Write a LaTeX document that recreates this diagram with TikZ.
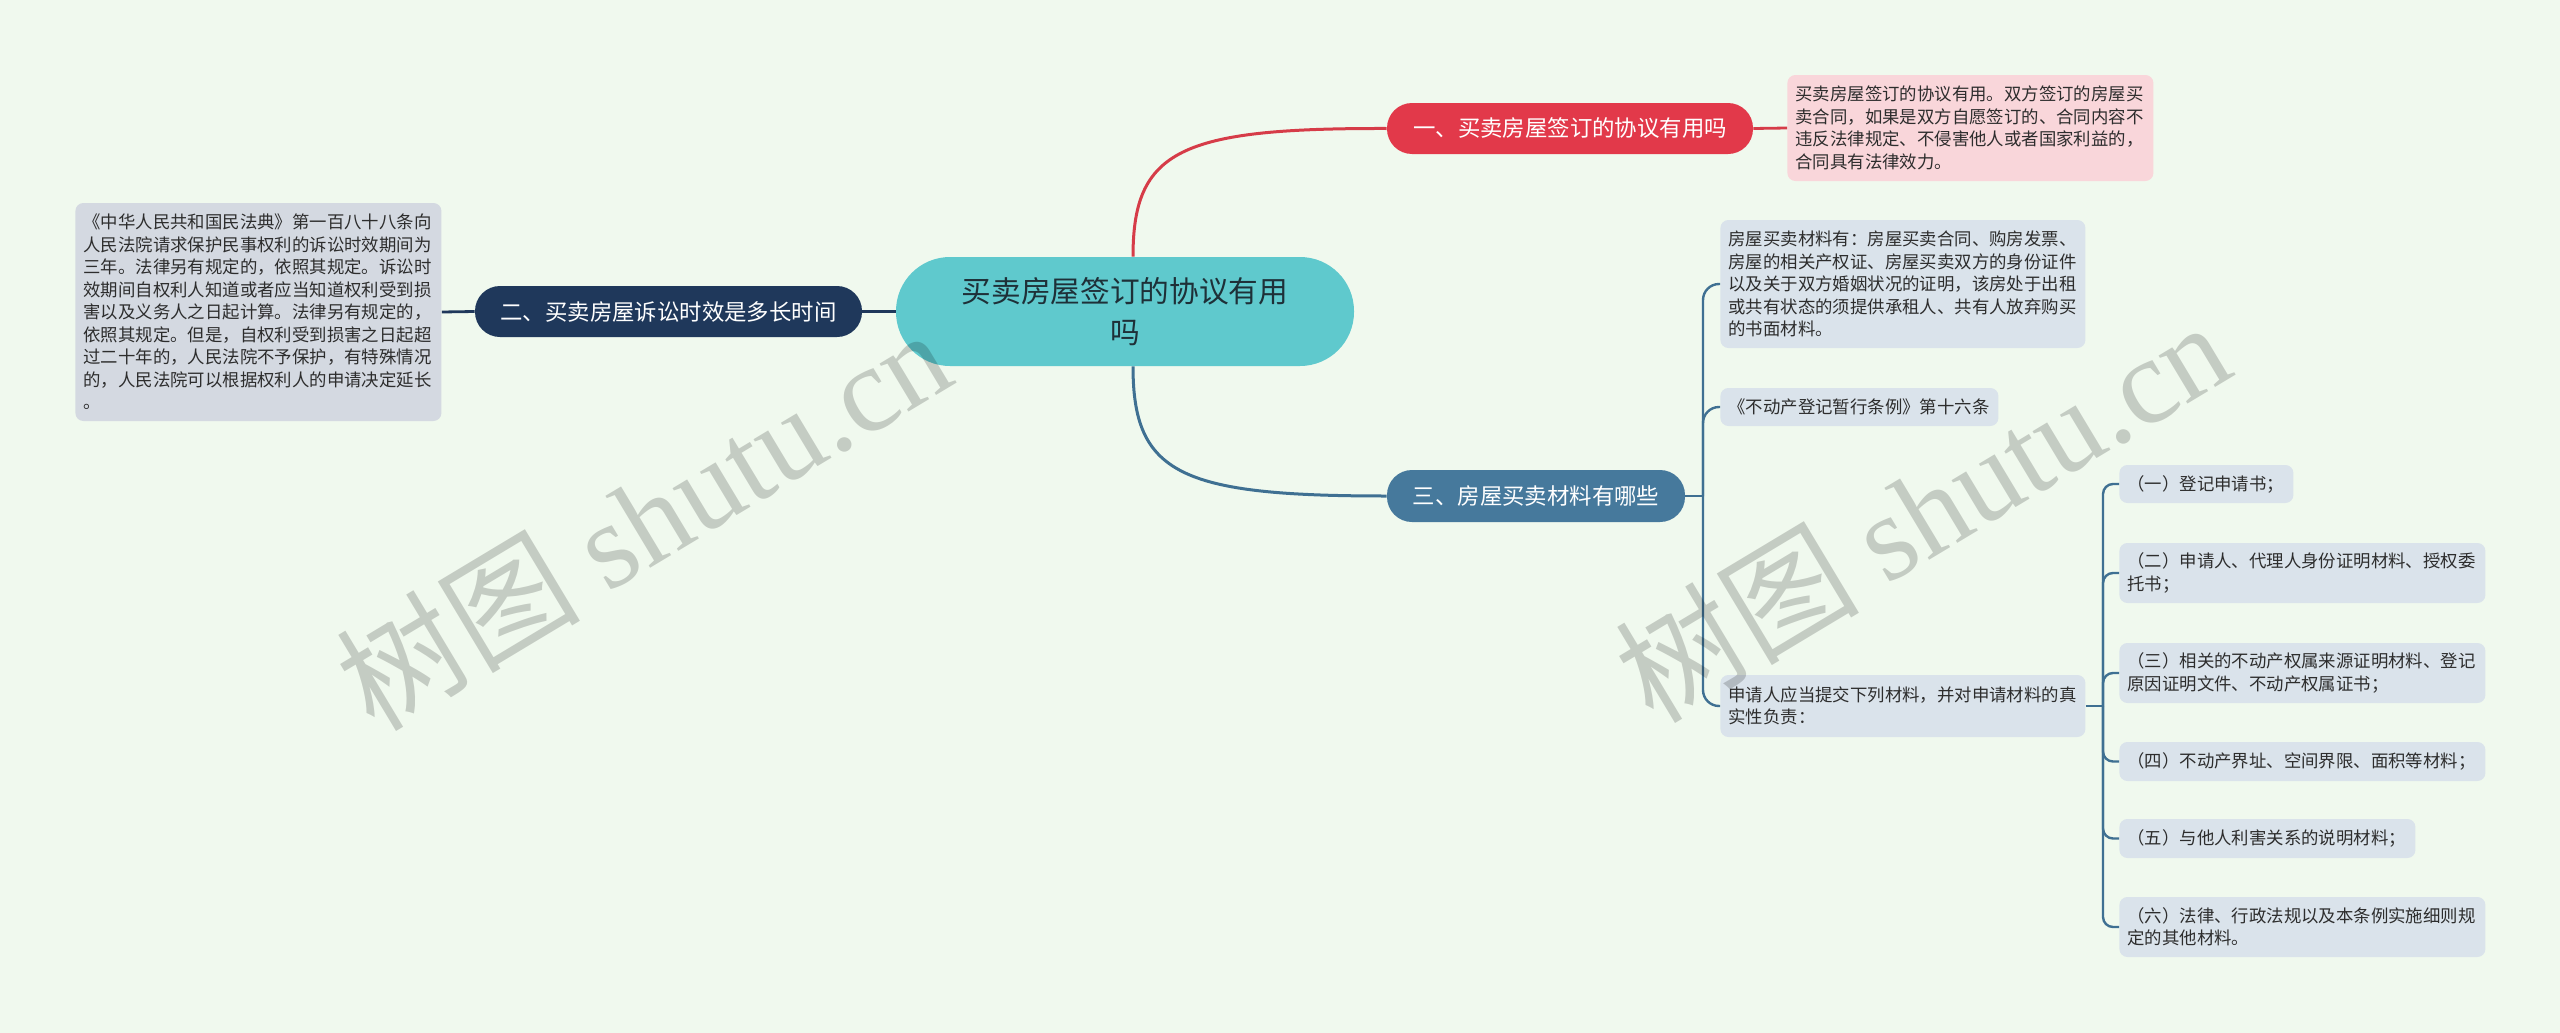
\documentclass[tikz,border=0pt]{standalone}
\usepackage{fontspec}
\setmainfont{Noto Sans CJK SC}
\newfontfamily\wmserif{Liberation Serif}
\usetikzlibrary{calc}
\definecolor{bg}{RGB}{240,249,238}
\definecolor{centerc}{RGB}{95,201,205}
\definecolor{centertext}{RGB}{30,48,56}
\definecolor{redc}{RGB}{226,57,74}
\definecolor{navyc}{RGB}{31,56,91}
\definecolor{bluec}{RGB}{70,121,156}
\definecolor{redleaf}{RGB}{249,214,218}
\definecolor{greyleaf}{RGB}{212,217,225}
\definecolor{blueleaf}{RGB}{218,227,235}
\definecolor{redline}{RGB}{214,60,72}
\definecolor{navyline}{RGB}{31,56,91}
\definecolor{blueline}{RGB}{63,112,146}
\definecolor{leaftext}{RGB}{45,45,45}
\begin{document}
\begin{tikzpicture}[x=0.5pt,y=-0.5pt,
  leaf/.style={rounded corners=4pt, inner xsep=4pt, inner ysep=0pt, align=left,
    text=leaftext, font=\fontsize{8.7pt}{11.25pt}\selectfont, anchor=west},
  branch/.style={rounded corners=12.5pt, inner sep=0pt, text=white,
    font=\fontsize{11.2pt}{14pt}\selectfont},
  redl/.style={draw=redline, line width=1.4pt},
  navyl/.style={draw=navyline, line width=1.4pt},
  bluel/.style={draw=blueline, line width=1.4pt},
  thinblue/.style={draw=blueline, line width=1.2pt},
  wm/.style={text=black, text opacity=0.18, rotate=31, inner sep=0pt,
    font=\fontsize{61pt}{66pt}\selectfont}
]
\useasboundingbox (0,0) rectangle (2560,1033);
\fill[bg] (0,0) rectangle (2560,1033);

% centre
\node[fill=centerc, rounded corners=27pt, minimum width=229pt, minimum height=54.5pt,
  inner sep=0pt, align=center, text=centertext,
  font=\fontsize{14.85pt}{20.5pt}\selectfont] (c) at (1125,311.5)
  {买卖房屋签订的协议有用\\吗};

% branches
\node[branch, fill=redc, minimum width=183pt, minimum height=25.5pt] (b1) at (1570,128.5)
  {一、买卖房屋签订的协议有用吗};
\node[branch, fill=navyc, minimum width=193.5pt, minimum height=25.5pt] (b2) at (668.5,311.5)
  {二、买卖房屋诉讼时效是多长时间};
\node[branch, fill=bluec, minimum width=149pt, minimum height=26pt] (b3) at (1536,496)
  {三、房屋买卖材料有哪些};

% leaves
\node[leaf, fill=greyleaf, text width=175pt, minimum height=109pt] (L2) at (75,312)
  {《中华人民共和国民法典》第一百八十八条向\\人民法院请求保护民事权利的诉讼时效期间为\\三年。法律另有规定的，依照其规定。诉讼时\\效期间自权利人知道或者应当知道权利受到损\\害以及义务人之日起计算。法律另有规定的，\\依照其规定。但是，自权利受到损害之日起超\\过二十年的，人民法院不予保护，有特殊情况\\的，人民法院可以根据权利人的申请决定延长\\。};
\node[leaf, fill=redleaf, text width=175pt, minimum height=53pt] (L1) at (1787,128)
  {买卖房屋签订的协议有用。双方签订的房屋买\\卖合同，如果是双方自愿签订的、合同内容不\\违反法律规定、不侵害他人或者国家利益的，\\合同具有法律效力。};
\node[leaf, fill=blueleaf, text width=174.5pt, minimum height=64pt] (L3a) at (1720,284)
  {房屋买卖材料有：房屋买卖合同、购房发票、\\房屋的相关产权证、房屋买卖双方的身份证件\\以及关于双方婚姻状况的证明，该房处于出租\\或共有状态的须提供承租人、共有人放弃购买\\的书面材料。};
\node[leaf, fill=blueleaf, text width=131pt, minimum height=19pt] (L3b) at (1720,407)
  {《不动产登记暂行条例》第十六条};
\node[leaf, fill=blueleaf, text width=174.5pt, minimum height=31pt] (L3c) at (1720,706)
  {申请人应当提交下列材料，并对申请材料的真\\实性负责：};

\node[leaf, fill=blueleaf, text width=79pt, minimum height=19pt] (S1) at (2119,484)
  {（一）登记申请书；};
\node[leaf, fill=blueleaf, text width=175pt, minimum height=30pt] (S2) at (2119,573)
  {（二）申请人、代理人身份证明材料、授权委\\托书；};
\node[leaf, fill=blueleaf, text width=175pt, minimum height=30pt] (S3) at (2119,673)
  {（三）相关的不动产权属来源证明材料、登记\\原因证明文件、不动产权属证书；};
\node[leaf, fill=blueleaf, text width=175pt, minimum height=19.5pt] (S4) at (2119,761.5)
  {（四）不动产界址、空间界限、面积等材料；};
\node[leaf, fill=blueleaf, text width=140pt, minimum height=19.5pt] (S5) at (2119,838.5)
  {（五）与他人利害关系的说明材料；};
\node[leaf, fill=blueleaf, text width=175pt, minimum height=30pt] (S6) at (2119,927)
  {（六）法律、行政法规以及本条例实施细则规\\定的其他材料。};

% connectors
\draw[redl, line width=1.5pt] ([xshift=4pt]c.north) .. controls (1133,150) and (1180,128) .. (b1.west);
\draw[bluel, line width=1.5pt] ([xshift=4pt]c.south) .. controls (1133,474) and (1180,496) .. (b3.west);
\draw[navyl, line width=1.5pt] (c.west) -- (b2.east);
\draw[navyl] (b2.west) -- (L2.east);
\draw[redl] (b1.east) -- (L1.west);

\coordinate (bus1) at (1703,496);
\draw[bluel] (b3.east) -- (bus1);
\draw[thinblue, rounded corners=8pt] (bus1) |- (L3a.west);
\draw[thinblue, rounded corners=8pt] (bus1) |- (L3b.west);
\draw[thinblue, rounded corners=8pt] (bus1) |- (L3c.west);

\coordinate (bus2) at (2103,706);
\draw[thinblue] (L3c.east) -- (bus2);
\foreach \s in {S1,S2,S3,S4,S5,S6}
  \draw[thinblue, rounded corners=5pt] (bus2) |- (\s.west);

% watermarks
\node[wm] (wm1) at (643,518) {树图 {\wmserif shutu.cn}};
\node[wm] (wm2) at (1922,510) {树图 {\wmserif shutu.cn}};
\end{tikzpicture}
\end{document}
